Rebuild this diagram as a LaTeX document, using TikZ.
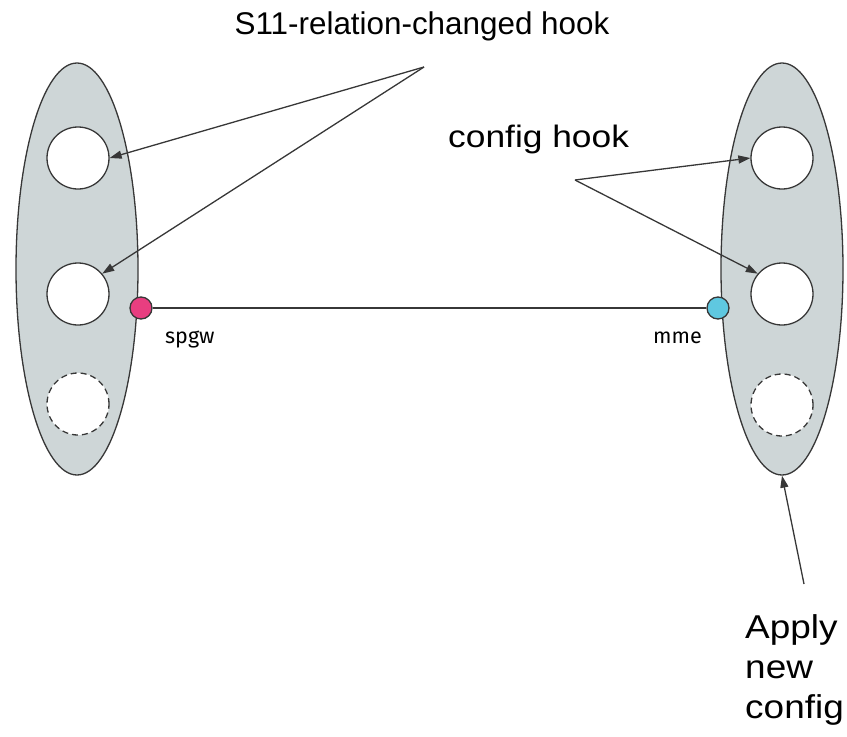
\documentclass[tikz,border=0pt]{standalone}
\usepackage{fontspec}
\setmainfont{Liberation Sans}
\newfontfamily\firafont{Fira Sans}
\usetikzlibrary{arrows.meta,shapes.geometric}
\definecolor{ellfill}{RGB}{206,214,215}
\definecolor{stroke}{RGB}{55,55,55}
\definecolor{pinkdot}{RGB}{232,62,128}
\definecolor{bluedot}{RGB}{95,200,224}
\tikzset{
  unit/.style={ellipse, draw=stroke, line width=1.3pt, fill=ellfill, minimum width=122pt, minimum height=412pt, inner sep=0pt},
  hookc/.style={circle, draw=stroke, line width=1.3pt, fill=white, minimum size=62pt, inner sep=0pt},
  hookd/.style={hookc, dashed, dash pattern=on 6pt off 4pt},
  port/.style={circle, draw=stroke, line width=1.3pt, minimum size=22pt, inner sep=0pt},
  conn/.style={draw=stroke, line width=1.3pt},
  arr/.style={conn, -{Triangle[length=12pt,width=8pt]}},
  lbl/.style={inner sep=0pt, font=\fontsize{31}{37}\selectfont, text=black},
  plbl/.style={inner sep=0pt, font=\firafont\fontsize{21.5}{25}\selectfont, text=black},
}
\begin{document}
\begin{tikzpicture}[x=1pt,y=-1pt]
\useasboundingbox (0,0) rectangle (847,737);
% units
\node[unit] (lu) at (77,269) {};
\node[unit] (ru) at (782,269) {};
% hooks
\node[hookc] (lc1) at (78,158) {};
\node[hookc] (lc2) at (78,294) {};
\node[hookd] (lc3) at (78,404) {};
\node[hookc] (rc1) at (782,158) {};
\node[hookc] (rc2) at (782,294) {};
\node[hookd] (rc3) at (782,405) {};
% ports
\node[port, fill=pinkdot] (spgw) at (141,308) {};
\node[port, fill=bluedot] (mme) at (718,308) {};
\draw[conn] (spgw) -- (mme);
\node[plbl, anchor=base west] (spgwl) at (165,343) {spgw};
\node[plbl, anchor=base east] (mmel) at (702,343) {mme};
% labels
\node[lbl, anchor=base, font=\fontsize{31.4}{37}\selectfont] (s11) at (422,34) {S11-relation-changed hook};
\node[lbl, anchor=base west, xscale=1.14] (cfg) at (448,147) {config hook};
\node[lbl, anchor=north west, align=left, xscale=1.12, font=\fontsize{33}{40}\selectfont] (apply) at (745,614) {Apply\\new\\config};
% arrows
\coordinate (s11a) at (424,67);
\coordinate (cfga) at (575,180);
\coordinate (appa) at (804,584);
\draw[arr] (s11a) -- (lc1.east);
\draw[arr] (s11a) -- (lc2.40);
\draw[arr] (cfga) -- (rc1.west);
\draw[arr] (cfga) -- (rc2.140);
\draw[arr] (appa) -- (ru.south);
\end{tikzpicture}
\end{document}
